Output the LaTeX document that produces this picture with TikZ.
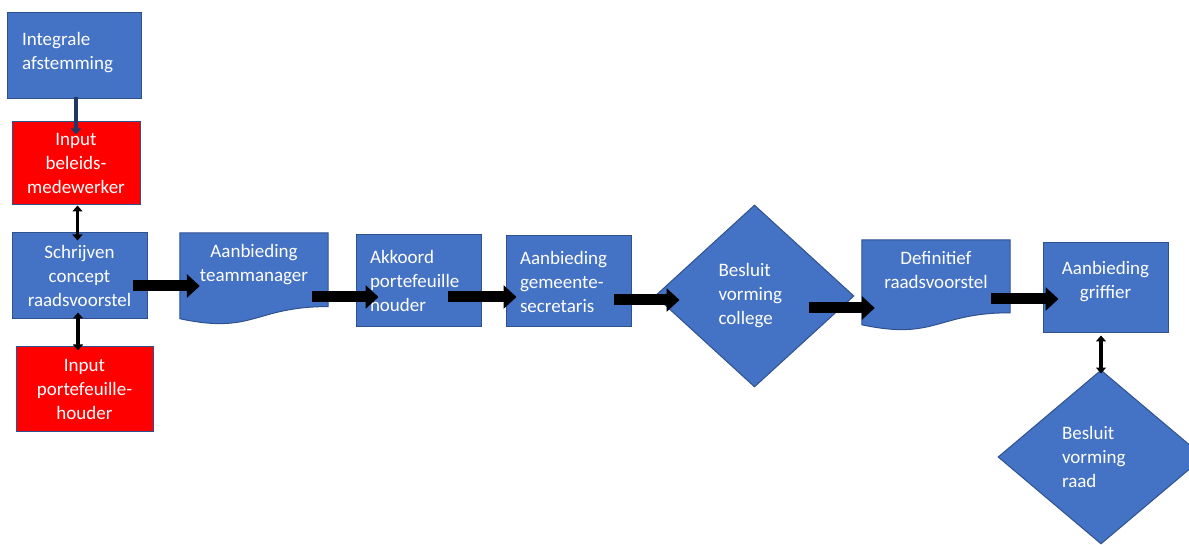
\documentclass[tikz,border=0pt]{standalone}
\usepackage{fontspec}
\setmainfont{Carlito}
\usetikzlibrary{arrows.meta,positioning,shapes.geometric,calc,backgrounds}
\definecolor{blok}{RGB}{68,114,196}
\definecolor{rand}{RGB}{47,82,143}
\definecolor{rood}{RGB}{255,0,0}
\definecolor{navy}{RGB}{32,56,100}
\tikzstyle{stap}=[draw=rand, fill=blok, line width=1pt, text=white, align=center]
\tikzstyle{invoer}=[draw=rand, fill=rood, line width=1pt, text=white, align=center]
\tikzstyle{doc}=[text=white, align=center]
\tikzstyle{besluit}=[diamond, draw=rand, fill=blok, line width=1pt, text=white, align=left]
\tikzstyle{pijl}=[line width=11pt, -{Triangle[width=23pt,length=13pt]}]
\tikzstyle{lijn}=[line width=3.5pt, {Triangle[width=10pt,length=6pt]}-{Triangle[width=10pt,length=6pt]}]
% document shape below a text node: #1 node, #2 full height
\newcommand{\docvorm}[2]{%
  \filldraw[draw=rand, fill=blok, line width=1pt] (#1.north west) -- (#1.north east)
    -- ($(#1.north east)+(0,{0.802*#2})$)
    .. controls ($(#1.north)+(0,{0.802*#2})$) and ($(#1.north)+(0,{1.107*#2})$)
    .. ($(#1.north west)+(0,{0.934*#2})$) -- cycle;}
\begin{document}
\begin{tikzpicture}[x=1pt,y=-1pt,font=\fontsize{19}{24}\selectfont]
    \useasboundingbox (0,0) rectangle (1189,545);
    \clip (0,0) rectangle (1189,545);
    % linker kolom
    \node [stap, minimum width=134pt, minimum height=86pt, text width=104pt, align=left, text depth=34pt] (integ) at (74,56) {Integrale\\afstemming};
    \node [invoer, minimum width=128pt, minimum height=83pt] (inbel) at (76,163.5) {Input\\beleids-\\medewerker};
    \node [stap, minimum width=135pt, minimum height=86pt] (schrijf) at (79.5,276) {Schrijven\\concept\\raadsvoorstel};
    \node [invoer, minimum width=137pt, minimum height=84pt] (inport) at (84.5,389) {Input\\portefeuille-\\houder};
    % hoofdlijn
    \node [doc, minimum width=148pt, minimum height=64pt] (teamman) at (254,265) {Aanbieding\\teammanager};
    \node [stap, minimum width=125pt, minimum height=92pt, text width=97pt, align=left] (akkoord) at (418.5,281) {Akkoord\\portefeuille\\houder};
    \node [stap, minimum width=125pt, minimum height=91pt, text width=97pt, align=left] (gemeente) at (568.5,281.5) {Aanbieding\\gemeente-\\secretaris};
    \node [besluit, minimum width=199pt, minimum height=182pt, text width=72pt] (college) at (754.5,296) {Besluit\\vorming\\college};
    \node [doc, minimum width=148pt, minimum height=60pt] (defin) at (936,270) {Definitief\\raadsvoorstel};
    \node [stap, minimum width=125pt, minimum height=90pt, text depth=17pt] (griffier) at (1105.5,288) {Aanbieding\\griffier};
    \node [besluit, minimum width=206pt, minimum height=174pt, text width=78pt] (raad) at (1101,457) {Besluit\\vorming\\raad};
    \begin{scope}[on background layer]
        \docvorm{teamman}{92}
        \docvorm{defin}{91}
    \end{scope}
    % pijlen
    \draw [pijl] ($(schrijf.east)+(-15,10)$) -- ($(teamman.west)+(20,21)$);
    \draw [pijl] ($(teamman.east)+(-16,32)$) -- ($(akkoord.west)+(23,16)$);
    \draw [pijl] ($(akkoord.east)+(-34,16)$) -- ($(gemeente.west)+(11,15.5)$);
    \draw [pijl] ($(gemeente.east)+(-18,18.5)$) -- ($(college.west)+(25,4)$);
    \draw [pijl] ($(college.east)+(-46,12)$) -- ($(defin.west)+(13,38)$);
    \draw [pijl] ($(defin.east)+(-19,29)$) -- ($(griffier.west)+(16,11)$);
    \draw [line width=3.5pt, navy, -{Triangle[width=10pt,length=6pt]}] ($(integ.south)+(2,-2)$) -- ($(inbel.north)+(0,13)$);
    \draw [lijn] ($(inbel.south)+(1.5,0)$) -- ($(inbel.south |- schrijf.north)+(1.5,8)$);
    \draw [lijn] ($(schrijf.south)+(-1.5,-7)$) -- ($(schrijf.south |- inport.north)+(-1.5,4)$);
    \draw [lijn] ($(raad.north |- griffier.south)+(0,2)$) -- ($(raad.north)+(0,4)$);
\end{tikzpicture}
\end{document}
